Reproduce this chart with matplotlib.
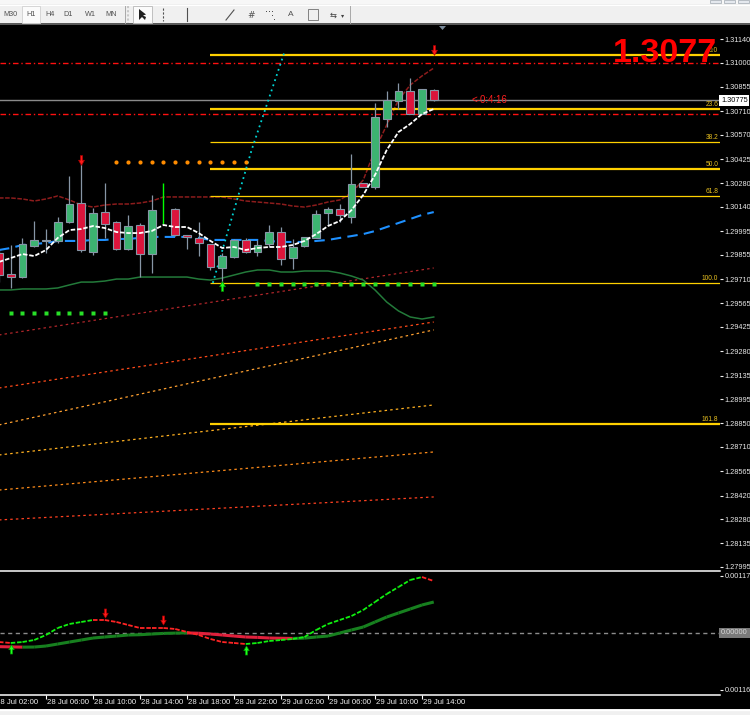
import matplotlib
matplotlib.use("Agg")
import matplotlib.pyplot as plt
from matplotlib.path import Path
from matplotlib.patches import Rectangle, Polygon
from matplotlib.lines import Line2D

plt.rcParams['font.family'] = ['Liberation Sans', 'DejaVu Sans']

# ------------------------------------------------------------------ data
time_labels = ["28 Jul 02:00", "28 Jul 06:00", "28 Jul 10:00", "28 Jul 14:00",
               "28 Jul 18:00", "28 Jul 22:00", "29 Jul 02:00", "29 Jul 06:00",
               "29 Jul 10:00", "29 Jul 14:00"]
time_label_bars = [0, 4, 8, 12, 16, 20, 24, 28, 32, 36]

opens = [1.29865, 1.29740, 1.29722, 1.29907, 1.29937, 1.29937, 1.30050, 1.30163,
         1.29871, 1.30109, 1.30050, 1.29889, 1.30032, 1.29859, 1.30050, 1.30127,
         1.29972, 1.29955, 1.29919, 1.29776, 1.29841, 1.29943, 1.29871, 1.29919,
         1.29990, 1.29835, 1.29907, 1.29955, 1.30103, 1.30127, 1.30080, 1.30282,
         1.30258, 1.30663, 1.30771, 1.30830, 1.30693, 1.30836]
highs = [1.29883, 1.29913, 1.29955, 1.30056, 1.30008, 1.30080, 1.30324, 1.30401,
         1.30133, 1.30282, 1.30056, 1.30092, 1.30044, 1.30211, 1.30282, 1.30133,
         1.29972, 1.30050, 1.29919, 1.29865, 1.29949, 1.29955, 1.29943, 1.30032,
         1.30020, 1.29949, 1.29961, 1.30121, 1.30139, 1.30157, 1.30455, 1.30282,
         1.30759, 1.30830, 1.30878, 1.30908, 1.30842, 1.30842]
lows = [1.29692, 1.29657, 1.29716, 1.29901, 1.29865, 1.29925, 1.30044, 1.29871,
        1.29853, 1.29955, 1.29883, 1.29883, 1.29722, 1.29746, 1.30038, 1.29966,
        1.29889, 1.29847, 1.29764, 1.29645, 1.29835, 1.29865, 1.29847, 1.29901,
        1.29794, 1.29770, 1.29901, 1.29955, 1.30032, 1.30050, 1.30044, 1.30258,
        1.30246, 1.30616, 1.30723, 1.30693, 1.30693, 1.30771]
closes = [1.29734, 1.29722, 1.29919, 1.29943, 1.29940, 1.30050, 1.30157, 1.29883,
          1.30103, 1.30038, 1.29889, 1.30026, 1.29859, 1.30121, 1.30050, 1.29972,
          1.29961, 1.29925, 1.29782, 1.29847, 1.29943, 1.29871, 1.29913, 1.29990,
          1.29830, 1.29901, 1.29961, 1.30098, 1.30127, 1.30092, 1.30276, 1.30258,
          1.30675, 1.30777, 1.30830, 1.30693, 1.30842, 1.30775]

fast_ma = [1.29812, 1.29835, 1.29859, 1.29847, 1.29883, 1.29955, 1.30002, 1.30008,
           1.30026, 1.30014, 1.29990, 1.29984, 1.29984, 1.29996, 1.30032, 1.30020,
           1.30020, 1.29984, 1.29937, 1.29895, 1.29901, 1.29883, 1.29895, 1.29901,
           1.29901, 1.29913, 1.29937, 1.29978, 1.30026, 1.30056, 1.30121, 1.30211,
           1.30330, 1.30479, 1.30586, 1.30634, 1.30693, 1.30723]
slow_ma = [1.29883, 1.29895, 1.29913, 1.29919, 1.29925, 1.29937, 1.29937, 1.29937,
           1.29943, 1.29943, 1.29949, 1.29949, 1.29955, 1.29961, 1.29961, 1.29961,
           1.29961, 1.29955, 1.29943, 1.29943, 1.29943, 1.29943, 1.29943, 1.29937,
           1.29931, 1.29931, 1.29931, 1.29937, 1.29943, 1.29955, 1.29966, 1.29978,
           1.29996, 1.30020, 1.30044, 1.30068, 1.30092, 1.30109]
upper_band = [1.30193, 1.30193, 1.30187, 1.30175, 1.30187, 1.30205, 1.30181, 1.30151,
              1.30139, 1.30151, 1.30157, 1.30157, 1.30163, 1.30175, 1.30199, 1.30199,
              1.30199, 1.30199, 1.30199, 1.30199, 1.30187, 1.30175, 1.30169, 1.30163,
              1.30157, 1.30145, 1.30139, 1.30151, 1.30169, 1.30181, 1.30223, 1.30300,
              1.30479, 1.30628, 1.30777, 1.30866, 1.30920, 1.30967]
lower_band = [1.29645, 1.29645, 1.29651, 1.29651, 1.29651, 1.29657, 1.29675, 1.29692,
              1.29692, 1.29698, 1.29710, 1.29710, 1.29722, 1.29722, 1.29722, 1.29722,
              1.29722, 1.29710, 1.29704, 1.29716, 1.29734, 1.29752, 1.29764, 1.29764,
              1.29752, 1.29752, 1.29758, 1.29758, 1.29758, 1.29746, 1.29728, 1.29704,
              1.29645, 1.29573, 1.29520, 1.29484, 1.29472, 1.29484]

fib_high = 1.31045
fib_low = 1.29687
fib_start_bar = 18
fib_levels = [0.0, 23.6, 38.2, 50.0, 61.8, 100.0, 161.8]
fib_thick = [True, True, False, True, False, False, True]

prev_high = 1.30997
prev_low = 1.30693
bid_price = 1.30775
big_price_text = "1.3077"
countdown_text = "<-0:4:16"

orange_dot_bars = list(range(10, 22))
orange_dot_price = 1.30407
green_dot_bars_a = list(range(22, 38))
green_dot_price_a = 1.29681
green_dot_bars_b = list(range(1, 10))
green_dot_price_b = 1.29508

sell_arrow_bars = [7, 37]
sell_arrow_prices = [1.30419, 1.31074]
buy_arrow_bars = [19]
buy_arrow_prices = [1.29669]

trend_bars = [18.2, 21.5, 24.3]
trend_prices = [1.29687, 1.30479, 1.31063]

chan_bar_start, chan_bar_end = 0, 37
chan_start = [1.29377, 1.29061, 1.28841, 1.28662, 1.28453, 1.28275]
chan_end = [1.29776, 1.29454, 1.29407, 1.28960, 1.28680, 1.28412]
chan_colors = ['#b0262a', '#ff4a1a', '#ffa030', '#ffb020', '#ff8c1a', '#ff4020']

price_ticks = [1.31140, 1.31000, 1.30855, 1.30710, 1.30570, 1.30425, 1.30280, 1.30140,
               1.29995, 1.29855, 1.29710, 1.29565, 1.29425, 1.29280, 1.29135, 1.28995,
               1.28850, 1.28710, 1.28565, 1.28420, 1.28280, 1.28135, 1.27995]

osc_fast = [-0.000185, -0.000205, -0.000185, -0.000144, -0.000041, 0.000103, 0.000185, 0.000226,
            0.000267, 0.000267, 0.000226, 0.000164, 0.000103, 0.000103, 0.000103, 0.000082,
            0.000021, -0.000041, -0.000123, -0.000185, -0.000205, -0.000226, -0.000205, -0.000164,
            -0.000144, -0.000123, -0.000082, 0.000062, 0.000185, 0.000267, 0.000349, 0.000472,
            0.000636, 0.000801, 0.000944, 0.001088, 0.001149, 0.001067]
osc_slow = [-0.000280, -0.000285, -0.000290, -0.000288, -0.000267, -0.000226, -0.000185, -0.000144,
            -0.000103, -0.000082, -0.000062, -0.000041, -0.000035, -0.000021, -0.000008, -0.000002,
            0.000002, -0.000005, -0.000021, -0.000041, -0.000062, -0.000082, -0.000090, -0.000103,
            -0.000108, -0.000112, -0.000105, -0.000082, -0.000062, 0.000000, 0.000062, 0.000123,
            0.000226, 0.000328, 0.000411, 0.000493, 0.000575, 0.000636]
osc_sell_bars = [9, 14]
osc_sell_vals = [0.00041, 0.000267]
osc_buy_bars = [1, 21]
osc_buy_vals = [-0.000328, -0.000349]
osc_ticks = [0.00117, 0.0, -0.00116]
osc_tick_labels = ["0.00117", "0.00000", "0.00116"]

toolbar_labels = ["M30", "H1", "H4", "D1", "W1", "MN"]

# ------------------------------------------------------------------ layout
W, H = 750, 715
fig = plt.figure(figsize=(W / 100, H / 100), dpi=100)
fig.patch.set_facecolor('#f0f0f0')


def prect(x0, y0, x1, y1, fc, ec='none', lw=0, z=0):
    fig.add_artist(Rectangle((x0 / W, 1 - y1 / H), (x1 - x0) / W, (y1 - y0) / H,
                             transform=fig.transFigure, facecolor=fc, edgecolor=ec,
                             lw=lw, zorder=z))


def pline(xs, ys, color, lw=0.8, ls='-', z=1):
    fig.add_artist(Line2D([x / W for x in xs], [1 - y / H for y in ys],
                          transform=fig.transFigure, color=color, lw=lw, ls=ls, zorder=z))


# window / toolbar
prect(0, 0, 750, 4, '#f7f7f7')
pline([0, 750], [4.5, 4.5], '#ffffff', 0.8)
prect(22, 6, 40, 23, '#fbfbfb', '#d0d0d0', 0.6, z=1)
tb_x = [10, 31, 50, 68, 90, 111]
for lab, x in zip(toolbar_labels, tb_x):
    fig.text(x / W, 1 - 15 / H, lab, ha='center', va='center', fontsize=5.2,
             color='#505050', zorder=2)
pline([125, 125], [6, 23], '#a8a8a8', 0.7)
pline([128, 128], [6, 23], '#c8c8c8', 1.5, ls=(0, (1, 1)))
prect(133, 6, 152, 23, '#fbfbfb', '#b8b8b8', 0.6, z=1)
fig.add_artist(Polygon([(139 / W, 1 - 9 / H), (139 / W, 1 - 20 / H), (142 / W, 1 - 17 / H),
                        (145 / W, 1 - 20 / H), (146 / W, 1 - 17 / H), (143 / W, 1 - 15.5 / H),
                        (146 / W, 1 - 14.5 / H)], closed=True, transform=fig.transFigure,
                       fc='#202020', ec='none', zorder=3))
pline([163, 163], [8, 21], '#505050', 0.8, ls=(0, (2, 1.5)))
pline([187, 187], [8, 21], '#505050', 0.8)
pline([226, 234], [20, 10], '#505050', 0.8)
fig.text(251 / W, 1 - 15 / H, '#', ha='center', va='center', fontsize=6.5,
         color='#505050', family='DejaVu Sans')
for dx, dy in [(266, 11), (269, 11), (272, 11), (272, 15), (274, 19)]:
    prect(dx, dy, dx + 1, dy + 1, '#505050', z=2)
fig.text(291 / W, 1 - 15 / H, 'A', ha='center', va='center', fontsize=6,
         color='#505050')
prect(308, 9, 318, 20, 'none', '#707070', 0.6, z=2)
fig.text(333 / W, 1 - 15 / H, '⇆', ha='center', va='center', fontsize=6,
         color='#404040', family='DejaVu Sans')
fig.text(343 / W, 1 - 15.5 / H, '▾', ha='center', va='center', fontsize=4.5,
         color='#404040', family='DejaVu Sans')
pline([350, 350], [6, 23], '#a8a8a8', 0.7)
for bx in [710, 724, 738]:
    prect(bx, 0, bx + 11, 2.5, '#e4e8ee', '#a0a8b0', 0.5, z=1)

# chart background
prect(0, 23, 750, 25, '#5a5a5a')
prect(0, 25, 750, 709, '#000000')
pline([0, 750], [709.8, 709.8], '#ffffff', 1.0)
fig.add_artist(Polygon([(439 / W, 1 - 26 / H), (446 / W, 1 - 26 / H), (442.5 / W, 1 - 30 / H)],
                       closed=True, transform=fig.transFigure, fc='#7a8a9a', ec='none', zorder=3))

# ------------------------------------------------------------------ price panel
ax = fig.add_axes([0, 1 - 570 / H, 720 / W, 545 / H])
ax.set_facecolor('black')
for s in ax.spines.values():
    s.set_visible(False)
XL = (1 / 11.75, 721 / 11.75)
ax.set_xlim(*XL)
ax.set_ylim(1.279768, 1.312234)
ax.yaxis.tick_right()
ax.set_yticks(price_ticks)
ax.set_yticklabels([f"{p:.5f}" for p in price_ticks])
ax.tick_params(axis='y', colors='#f0f0f0', labelcolor='#e8e8e8', length=2.5, width=0.8,
               pad=0.8, labelsize=5.3)
ax.tick_params(axis='x', bottom=False, labelbottom=False)
ax.set_xticks([])

# channel lines
for s, e, c in zip(chan_start, chan_end, chan_colors):
    ax.plot([chan_bar_start, chan_bar_end], [s, e], color=c, lw=0.9, ls=(0, (2, 2.5)), zorder=2)

# bands
ax.plot(range(len(upper_band)), upper_band, color='#8c1c1c', lw=1.1, ls=(0, (3, 1)), zorder=3)
ax.plot(range(len(lower_band)), lower_band, color='#237a3a', lw=1.1, zorder=3)
ax.plot(range(len(slow_ma)), slow_ma, color='#1e90ff', lw=1.5, ls=(0, (5, 3)), zorder=3)

# fibonacci
for lvl, thick in zip(fib_levels, fib_thick):
    p = fib_high - (fib_high - fib_low) * lvl / 100.0
    ax.plot([fib_start_bar, XL[1]], [p, p], color='#ffd000', lw=1.6 if thick else 0.9,
            solid_capstyle='butt', zorder=4)
    ax.text(XL[1] - 0.15, p + 0.00004, f"{lvl:.1f}", ha='right', va='bottom',
            fontsize=4.8, color='#e8c020', zorder=11)

# key lines
ax.axhline(prev_high, color='#ff1010', lw=1.0, ls=(0, (4, 2, 1, 2)), zorder=4)
ax.axhline(prev_low, color='#ff1010', lw=1.0, ls=(0, (4, 2, 1, 2)), zorder=4)
ax.axhline(bid_price, color='#8a8a8a', lw=1.0, zorder=4)

# trend line
ax.plot(trend_bars, trend_prices, color='#00d4d4', lw=1.3, ls=(0, (1, 2)), zorder=4)

# candles
wick_c = '#8796a6'
body_w = 0.68
for i, (o, h, l, c) in enumerate(zip(opens, highs, lows, closes)):
    if o == c:
        ax.vlines(i, l, h, color='#00ff00', lw=1.0, zorder=6)
        continue
    ax.vlines(i, l, h, color=wick_c, lw=0.9, zorder=5)
    fc = '#3cb371' if c > o else '#dc143c'
    ax.add_patch(Rectangle((i - body_w / 2, min(o, c)), body_w, abs(c - o), facecolor=fc,
                           edgecolor=wick_c, lw=0.8, zorder=6))

# fast MA
ax.plot(range(len(fast_ma)), fast_ma, color='white', lw=1.3, ls=(0, (2.5, 1)), zorder=7)

# dots
ax.plot(orange_dot_bars, [orange_dot_price] * len(orange_dot_bars), 'o', ms=3.0,
        color='#ff8c00', mec='none', zorder=7)
ax.plot(green_dot_bars_a, [green_dot_price_a] * len(green_dot_bars_a), 's', ms=2.8,
        color='#28e028', mec='none', zorder=7)
ax.plot(green_dot_bars_b, [green_dot_price_b] * len(green_dot_bars_b), 's', ms=2.8,
        color='#28e028', mec='none', zorder=7)

down_arrow = Path([(-0.22, 1), (0.22, 1), (0.22, 0.05), (0.6, 0.05), (0, -1), (-0.6, 0.05),
                   (-0.22, 0.05), (-0.22, 1)], closed=True)
up_arrow = Path([(-0.22, -1), (0.22, -1), (0.22, -0.05), (0.6, -0.05), (0, 1), (-0.6, -0.05),
                 (-0.22, -0.05), (-0.22, -1)], closed=True)
ax.plot(sell_arrow_bars, sell_arrow_prices, ls='none', marker=down_arrow, ms=7,
        color='#ff1a1a', mec='#b00000', mew=0.5, zorder=8)
ax.plot(buy_arrow_bars, buy_arrow_prices, ls='none', marker=up_arrow, ms=7,
        color='#20ff20', mec='#00a000', mew=0.5, zorder=8)

# axis price label of the bid
ax.text(1.0 + 1.0 / 720, bid_price, f"{bid_price:.5f}", transform=ax.get_yaxis_transform(),
        ha='left', va='center', fontsize=5.3, color='black', clip_on=False, zorder=10,
        bbox=dict(boxstyle='square,pad=0.25', fc='white', ec='none'))

# texts
fig.text(717 / W, 1 - 62.5 / H, big_price_text, ha='right', va='baseline', fontsize=24.5,
         fontweight='bold', color='#ff0000', family='Liberation Sans', zorder=10)
fig.text(472 / W, 1 - 100 / H, countdown_text, ha='left', va='center', fontsize=7,
         color='#ff2020', zorder=10)

# ------------------------------------------------------------------ oscillator panel
ax2 = fig.add_axes([0, 1 - 695 / H, 720 / W, 124 / H])
ax2.set_facecolor('black')
for k in ['left', 'right']:
    ax2.spines[k].set_visible(False)
ax2.spines['top'].set_color('white')
ax2.spines['top'].set_linewidth(1.1)
ax2.spines['bottom'].set_color('white')
ax2.spines['bottom'].set_linewidth(1.1)
ax2.set_xlim(*XL)
ax2.set_ylim(-0.0012726, 0.0012726)
ax2.yaxis.tick_right()
ax2.set_yticks(osc_ticks)
ax2.set_yticklabels(osc_tick_labels)
ax2.tick_params(axis='y', colors='#f0f0f0', labelcolor='#e8e8e8', length=2.5, width=0.8,
                pad=0.8, labelsize=5.3)
ax2.get_yticklabels()[1].set_visible(False)
ax2.set_xticks([b for b in time_label_bars if b > 0])
ax2.set_xticklabels([])
ax2.tick_params(axis='x', colors='white', length=3, width=0.8, direction='out')

ax2.axhline(0, color='#8c8c8c', lw=1.0, ls=(0, (3, 2.5)), zorder=2)
ax2.text(1.0 + 1.0 / 720, 0.0, "0.00000", transform=ax2.get_yaxis_transform(),
         ha='left', va='center', fontsize=5.3, color='#d8d8d8', clip_on=False, zorder=10,
         bbox=dict(boxstyle='square,pad=0.25', fc='#7a7a7a', ec='none'))

for j in range(len(osc_slow) - 1):
    up = osc_slow[j + 1] > osc_slow[j]
    ax2.plot([j, j + 1], [osc_slow[j], osc_slow[j + 1]], color='#17801f' if up else '#e0203c',
             lw=2.2, solid_capstyle='butt', zorder=3)
for j in range(len(osc_fast) - 1):
    up = osc_fast[j + 1] > osc_fast[j]
    ax2.plot([j, j + 1], [osc_fast[j], osc_fast[j + 1]], color='#10f010' if up else '#ff2424',
             lw=1.3, ls=(0, (2.5, 1)), zorder=4)

ax2.plot(osc_sell_bars, osc_sell_vals, ls='none', marker=down_arrow, ms=6.5,
         color='#ff1a1a', mec='#b00000', mew=0.5, zorder=8)
ax2.plot(osc_buy_bars, osc_buy_vals, ls='none', marker=up_arrow, ms=6.5,
         color='#20ff20', mec='#00a000', mew=0.5, zorder=8)

# time labels
for b, lab in zip(time_label_bars, time_labels):
    xpx = ax2.transData.transform((b, 0))[0]
    off = 1.5 if b > 0 else -3.5
    fig.text((xpx + off) / W, 1 - 702.5 / H, lab, ha='left', va='center', fontsize=5.6,
             color='#f0f0f0', zorder=10)

fig.savefig('out.png', dpi=100, facecolor=fig.get_facecolor())
